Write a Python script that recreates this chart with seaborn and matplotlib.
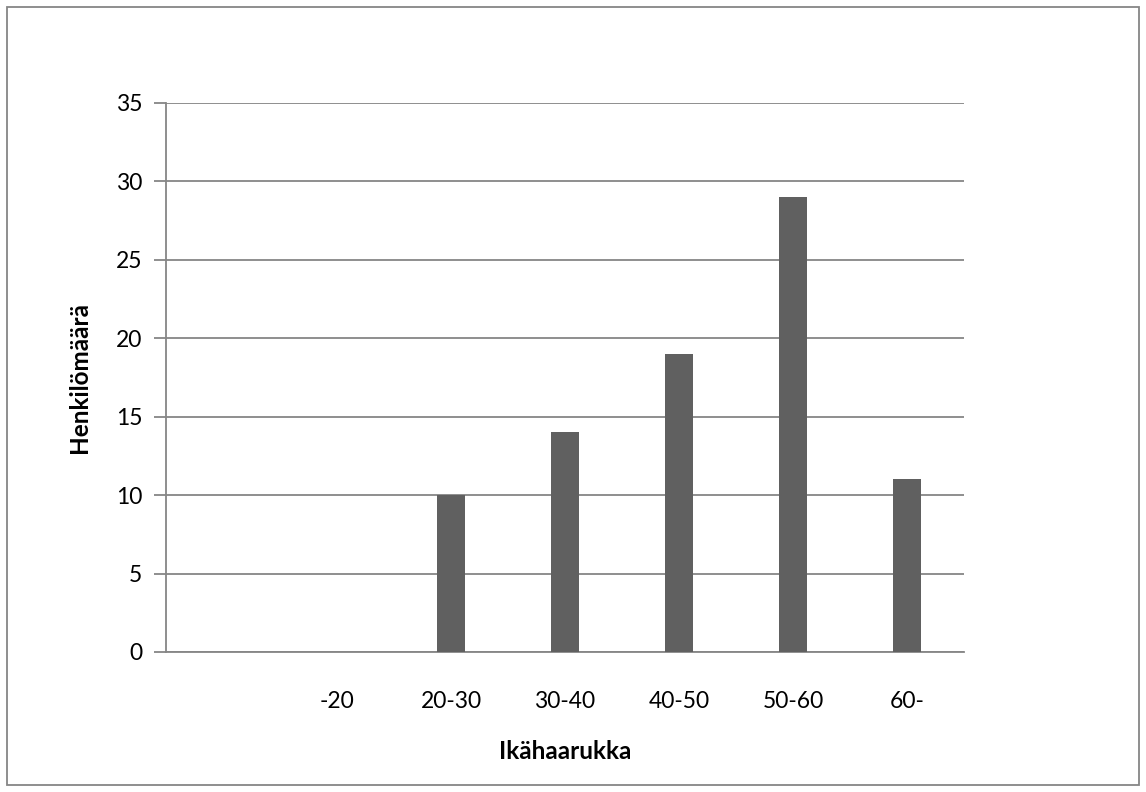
import matplotlib
matplotlib.use("Agg")
import matplotlib.pyplot as plt
import seaborn as sns
import pandas as pd
from matplotlib.patches import Rectangle

categories = ["", "-20", "20-30", "30-40", "40-50", "50-60", "60-"]
values = [0, 0, 10, 14, 19, 29, 11]
yticks = [0, 5, 10, 15, 20, 25, 30, 35]

sns.set_theme(style="white")
plt.rcParams['font.family'] = ['Lato', 'DejaVu Sans']
plt.rcParams['text.color'] = 'black'
plt.rcParams['axes.labelcolor'] = 'black'
plt.rcParams['xtick.color'] = 'black'
plt.rcParams['ytick.color'] = 'black'

fig = plt.figure(figsize=(11.46, 7.92), dpi=100)
ax = fig.add_axes([0.1449, 0.1768, 0.6963, 0.6935])

df = pd.DataFrame({"cat": categories, "val": values})
sns.barplot(data=df, x="cat", y="val", order=categories, color="#606060",
            saturation=1, width=0.25, ax=ax, zorder=3, linewidth=0)

ax.set_ylim(0, 35)
ax.set_xlim(-0.5, len(categories) - 0.5)
ax.set_yticks(yticks)
ax.yaxis.grid(True, color="#868686", linewidth=1.3, zorder=0)
ax.set_axisbelow(True)
for s in ["top", "right"]:
    ax.spines[s].set_visible(False)
ax.spines["left"].set_color("#868686")
ax.spines["left"].set_linewidth(1.3)
ax.spines["bottom"].set_color("#868686")
ax.spines["bottom"].set_linewidth(1.3)

ax.tick_params(axis="y", which="major", left=True, length=9, width=1.3,
               color="#868686", labelcolor="black", labelsize=16.5, pad=8,
               direction="out")
ax.tick_params(axis="x", bottom=False, labelsize=16.5, labelcolor="black", pad=22)

ax.set_xlabel("Ikähaarukka", fontsize=17.5, fontweight="bold", labelpad=20,
              color="black")
ax.set_ylabel("Henkilömäärä", fontsize=17.5, fontweight="bold", labelpad=18,
              color="black")

fig.patches.append(Rectangle((7 / 1146, 7 / 792), 1 - 14 / 1146, 1 - 14 / 792,
                             transform=fig.transFigure, fill=False,
                             edgecolor="#868686", linewidth=1.3))

fig.savefig("out.png", dpi=100)
